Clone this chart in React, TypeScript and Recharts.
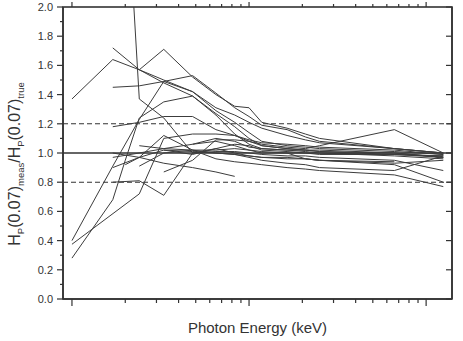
import { LineChart, Line, XAxis, YAxis, ReferenceLine } from "recharts";

// photon energies (keV) where the instruments were measured
const energies = [10, 17, 20, 24, 33, 48, 65, 83, 100, 118, 164, 208, 250, 662, 1250];

// Hp(0.07) meas / true, one array per instrument (null = not measured)
const s1 = [1.37, 1.64, null, 1.57, 1.5, 1.42, 1.31, 1.26, 1.21, 1.17, 1.12, 1.09, 1.07, 1.03, 1.0];
const s2 = [null, 1.72, null, 1.57, 1.48, 1.39, 1.26, 1.13, 1.06, 1.03, 1.02, 1.02, 1.01, 1.0, 0.97];
const s3 = [null, null, 3.0, 1.37, 1.24, 1.0, 1.03, 1.06, 1.05, 1.02, 1.01, 1.0, 1.0, 0.99, 0.98];
const s4 = [null, null, null, 1.57, 1.71, 1.52, 1.4, 1.32, 1.31, 1.21, 1.17, 1.13, 1.1, 1.03, 1.0];
const s5 = [0.28, 0.68, 0.95, 1.24, 1.35, 1.39, 1.27, 1.18, 1.1, 1.05, 1.03, 1.02, 1.02, 1.0, 0.97];
const s6 = [0.4, 0.91, null, 1.23, 1.49, 1.42, 1.29, 1.21, 1.14, 1.08, 1.05, 1.04, 1.03, 1.01, 0.99];
const s7 = [0.375, null, null, 0.72, 1.1, 1.13, 1.13, 1.12, 1.08, 1.05, 1.03, 1.02, 1.01, 0.99, 0.98];
const s8 = [null, 1.45, null, 1.46, 1.49, 1.53, 1.41, 1.31, 1.25, 1.19, 1.16, 1.11, 1.08, 1.03, 1.0];
const s9 = [null, 1.18, null, 1.21, 1.25, 1.25, 1.16, 1.12, 1.09, 1.07, 1.06, 1.05, 1.04, 1.02, 0.99];
const s10 = [null, 0.8, null, 0.81, 0.71, 1.0, 1.01, 1.01, 1.0, 0.99, 0.98, 0.98, 0.97, 0.95, 0.88];
const s11 = [null, 1.0, null, 0.97, 0.93, 0.9, 0.87, 0.84, null, null, null, null, null, null, null];
const s12 = [null, null, null, 0.91, 1.0, 1.02, 1.02, 1.03, 1.02, 1.01, 1.0, 0.96, 0.95, 0.94, null];
const s13 = [null, null, null, null, 0.87, 0.95, 1.09, 1.09, 1.08, 1.06, 1.04, 1.03, 1.05, 1.16, 1.0];
const s14 = [null, 0.9, null, 0.97, 1.12, 1.02, 1.0, 0.99, 0.98, 0.97, 0.97, 0.96, 0.95, 0.92, 0.8];
const s15 = [null, null, null, 1.05, 1.03, 1.02, 0.96, 0.94, 0.93, 0.92, 0.9, 0.89, 0.88, 0.85, 0.77];
const s16 = [null, null, null, null, 1.02, 1.01, 1.0, 0.99, 0.97, 0.95, 0.93, 0.92, 0.9, 0.88, 0.98];
const s17 = [null, null, null, null, null, 1.06, 1.1, 1.08, 1.04, 1.03, 1.02, 1.01, 1.0, 0.98, 0.96];
const s18 = [null, 0.97, null, 1.0, 1.03, 1.06, 1.08, 1.05, 1.02, 1.0, 1.0, 1.0, 0.99, 0.99, 0.97];
const s19 = [null, null, 0.92, 0.97, 1.02, 0.99, 1.03, 1.0, 0.98, 0.97, 0.96, 0.96, 0.95, 0.93, 0.95];

const allSeries = [s1, s2, s3, s4, s5, s6, s7, s8, s9, s10, s11, s12, s13, s14, s15, s16, s17, s18, s19];

const xTicks = [10, 20, 30, 40, 50, 60, 70, 80, 90, 100, 200, 300, 400, 500, 600, 700, 800, 900, 1000];
const xMajor = [10, 100, 1000];
const yTicks = [0, 0.1, 0.2, 0.3, 0.4, 0.5, 0.6, 0.7, 0.8, 0.9, 1.0, 1.1, 1.2, 1.3, 1.4, 1.5, 1.6, 1.7, 1.8, 1.9, 2.0];
const yTicksRight = [0, 0.2, 0.4, 0.6, 0.8, 1.0, 1.2, 1.4, 1.6, 1.8, 2.0];
const xDomain = [8.9, 1400];

const ink = "#333";
const font = "'Liberation Sans', Arial, sans-serif";

// plot box (frame is drawn in the overlay)
const W = 463;
const H = 341;
const box = { left: 63, top: 7, right: 452, bottom: 299 };

const toPoints = (vals: (number | null)[]) =>
  energies.map((e, i) => ({ e, v: vals[i] })).filter((p) => p.v !== null);

const logX = (t: number) =>
  box.left +
  ((box.right - box.left) * (Math.log10(t) - Math.log10(xDomain[0]))) /
    (Math.log10(xDomain[1]) - Math.log10(xDomain[0]));

const BottomTick = (p: any) => {
  const big = xMajor.includes(p.payload.value);
  return <line x1={p.x} x2={p.x} y1={p.y} y2={p.y + (big ? 7 : 4)} stroke={ink} strokeWidth={1.2} />;
};

const LeftTick = (p: any) => {
  const v = p.payload.value;
  const big = Math.round(v * 10) % 2 === 0;
  return (
    <g>
      <line x1={p.x - (big ? 6 : 3)} x2={p.x} y1={p.y} y2={p.y} stroke={ink} strokeWidth={1.2} />
      {big && (
        <text x={p.x - 10} y={p.y + 4} textAnchor="end" fontSize={11} fontFamily={font} fill={ink}>
          {v.toFixed(1)}
        </text>
      )}
    </g>
  );
};

const RightTick = (p: any) => (
  <line x1={p.x - 6} x2={p.x} y1={p.y} y2={p.y} stroke={ink} strokeWidth={1.2} />
);

export default function App() {
  return (
    <div style={{ position: "absolute", left: 0, top: 0, width: W, height: H, background: "#fff" }}>
      <LineChart
        width={W}
        height={H}
        margin={{ top: box.top, right: W - box.right - 1, bottom: 0, left: 0 }}
      >
        <XAxis
          dataKey="e"
          type="number"
          scale="log"
          domain={xDomain}
          allowDataOverflow
          ticks={xTicks}
          interval={0}
          height={H - box.bottom}
          tickSize={0}
          tickMargin={0}
          tick={(p: any) => <BottomTick {...p} />}
          axisLine={{ stroke: ink, strokeWidth: 1.5 }}
        />
        <YAxis
          type="number"
          domain={[0, 2]}
          allowDataOverflow
          ticks={yTicks}
          interval={0}
          width={box.left}
          tickSize={0}
          tickMargin={0}
          tick={(p: any) => <LeftTick {...p} />}
          axisLine={{ stroke: ink, strokeWidth: 1.5 }}
        />
        <YAxis
          yAxisId="right"
          orientation="right"
          type="number"
          domain={[0, 2]}
          allowDataOverflow
          ticks={yTicksRight}
          interval={0}
          width={1}
          tickSize={0}
          tickMargin={0}
          tick={(p: any) => <RightTick {...p} />}
          axisLine={{ stroke: ink, strokeWidth: 1.5 }}
        />
        <ReferenceLine y={1.2} stroke={ink} strokeDasharray="5 3" strokeWidth={1.1} />
        <ReferenceLine y={0.8} stroke={ink} strokeDasharray="5 3" strokeWidth={1.1} />
        <ReferenceLine y={1.0} stroke={ink} strokeWidth={1.3} />
        {allSeries.map((s, i) => (
          <Line
            key={i}
            data={toPoints(s)}
            dataKey="v"
            stroke="#3c3c3c"
            strokeWidth={1}
            dot={false}
            isAnimationActive={false}
          />
        ))}
        {/* invisible copy so the mirrored right frame axis gets drawn */}
        <Line
          yAxisId="right"
          data={toPoints(s1)}
          dataKey="v"
          stroke="none"
          dot={false}
          activeDot={false}
          legendType="none"
          isAnimationActive={false}
        />
      </LineChart>
      <svg width={W} height={H} style={{ position: "absolute", left: 0, top: 0, pointerEvents: "none" }}>
        {/* full frame box plus outward ticks on the top edge */}
        <rect
          x={box.left}
          y={box.top}
          width={box.right - box.left}
          height={box.bottom - box.top}
          fill="none"
          stroke={ink}
          strokeWidth={1.6}
        />
        {xTicks.map((t) => (
          <line
            key={t}
            x1={logX(t)}
            x2={logX(t)}
            y1={box.top}
            y2={box.top - (xMajor.includes(t) ? 5 : 3)}
            stroke={ink}
            strokeWidth={1.2}
          />
        ))}
        <text x={(box.left + box.right) / 2} y={333} textAnchor="middle" fontSize={15} fontFamily={font} fill={ink}>
          Photon Energy (keV)
        </text>
        <text
          x={0}
          y={0}
          transform="translate(20,164) rotate(-90)"
          textAnchor="middle"
          fontSize={16}
          fontFamily={font}
          fill={ink}
        >
          H<tspan fontSize={9.5} dy={4}>P</tspan>
          <tspan dy={-4}>(0.07)</tspan>
          <tspan fontSize={9.5} dy={4}>meas</tspan>
          <tspan dy={-4}>/H</tspan>
          <tspan fontSize={9.5} dy={4}>P</tspan>
          <tspan dy={-4}>(0.07)</tspan>
          <tspan fontSize={9.5} dy={4}>true</tspan>
        </text>
      </svg>
    </div>
  );
}
